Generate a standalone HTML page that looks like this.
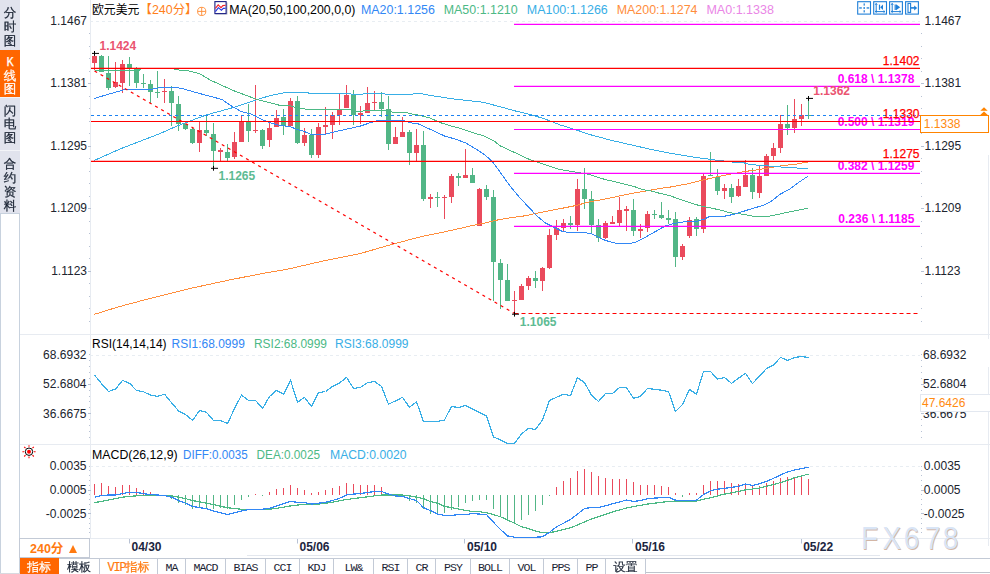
<!DOCTYPE html>
<html lang="zh-CN">
<head>
<meta charset="utf-8">
<title>欧元美元 240分 K线图</title>
<style>
html,body{margin:0;padding:0;background:#fff;}
body{width:990px;height:574px;overflow:hidden;position:relative;font-family:"Liberation Sans","Noto Sans CJK SC",sans-serif;}
#app{position:absolute;left:0;top:0;width:990px;height:574px;background:#fff;overflow:hidden;}
.chart{position:absolute;left:0;top:0;}
.side{position:absolute;left:0;top:0;height:574px;border-left:1px solid #c8d2de;border-right:1px solid #c8d2de;box-sizing:border-box;width:20px;background:#fff;}
.side .box{position:absolute;left:-1px;top:213px;width:20px;height:1px;background:#c8d2de;}
.side .t{position:absolute;left:-1px;width:20px;background:#e1e3ed;color:#1b2434;font:12.5px/13.6px "Liberation Sans","WenQuanYi Zen Hei","Noto Sans CJK SC",sans-serif;text-align:center;box-sizing:border-box;border-top:1px solid #f3f4f8;}
.side .t span{display:block;-webkit-text-stroke:0.25px currentColor;}
.side .t.on{background:#ff6600;color:#fff;border-top:none;}
.bottom{position:absolute;left:0;top:557px;width:990px;height:17px;}
.period{position:absolute;left:19px;top:538px;width:71px;height:20px;border:1px solid #c3cad6;box-sizing:border-box;background:#fff;color:#ff7a10;font:bold 12.5px/18px "Liberation Sans","Noto Sans CJK SC",sans-serif;}
.period b{position:absolute;left:10px;top:1.4px;font-weight:bold;}
.period i{position:absolute;left:48.5px;top:5.8px;width:0;height:0;border-left:4.2px solid transparent;border-right:4.2px solid transparent;border-bottom:8.5px solid #ff7a10;}
.tabs{position:absolute;left:0;top:558px;height:16px;width:990px;}
.tab{position:absolute;top:0;height:16px;box-sizing:border-box;border-right:1px solid #c3cad6;border-top:1px solid #c3cad6;text-align:center;color:#222;font:12px/16px "Liberation Sans","WenQuanYi Zen Hei","Noto Sans CJK SC",sans-serif;background:#fff;white-space:nowrap;overflow:hidden;}
.tab.on{background:#ff6600;color:#fff;border-color:#ff6600;}
.tab.cj,.tab.on,.tab.vip{-webkit-text-stroke:0.2px currentColor;color:#1b2434;}
.tab.on{color:#fff;}
.tab.vip{color:#ff7a10;}
.mono{font-family:"Liberation Mono",monospace;font-size:12px;letter-spacing:-1.2px;}
.tab.mono{line-height:17.4px;font-size:11.6px;letter-spacing:-0.96px;color:#1b2434;}
.rest{position:absolute;left:646px;top:558px;width:344px;height:15px;border-top:1px solid #c3cad6;border-bottom:1.4px solid #bfc4cc;box-sizing:border-box;background:#fff;}
.botline{position:absolute;left:0;top:573px;width:20px;height:1px;background:#d8dae0;}
.scroll{position:absolute;left:247px;top:555px;width:633px;height:1px;background:#e3e7ee;}
</style>
</head>
<body>
<div id="app">
<svg class="chart" width="990" height="574" viewBox="0 0 990 574">
<g stroke="#e7ebf1" stroke-width="1" shape-rendering="crispEdges" fill="none">
<line x1="90.5" y1="0" x2="90.5" y2="538"/>
<line x1="20" y1="334.5" x2="990" y2="334.5"/>
<line x1="20" y1="444.5" x2="990" y2="444.5"/>
<line x1="20" y1="538.5" x2="990" y2="538.5"/>
<line x1="988.5" y1="155" x2="988.5" y2="339"/>
<line x1="988.5" y1="367" x2="988.5" y2="546"/>
</g>
<g stroke="#e8edf2" stroke-width="1" stroke-dasharray="3 3" shape-rendering="crispEdges">
<line x1="90" y1="21.5" x2="920" y2="21.5"/>
<line x1="90" y1="355.5" x2="920" y2="355.5"/>
<line x1="90" y1="466.5" x2="920" y2="466.5"/>
</g>
<g fill="#b8c2d4" shape-rendering="crispEdges">
<rect x="89" y="33" width="1" height="1"/>
<rect x="921" y="33" width="1" height="1"/>
<rect x="89" y="46" width="1" height="1"/>
<rect x="921" y="46" width="1" height="1"/>
<rect x="89" y="58" width="1" height="1"/>
<rect x="921" y="58" width="1" height="1"/>
<rect x="89" y="71" width="1" height="1"/>
<rect x="921" y="71" width="1" height="1"/>
<rect x="88" y="83" width="3" height="1"/>
<rect x="921" y="83" width="3" height="1"/>
<rect x="89" y="96" width="1" height="1"/>
<rect x="921" y="96" width="1" height="1"/>
<rect x="89" y="108" width="1" height="1"/>
<rect x="921" y="108" width="1" height="1"/>
<rect x="89" y="121" width="1" height="1"/>
<rect x="921" y="121" width="1" height="1"/>
<rect x="89" y="133" width="1" height="1"/>
<rect x="921" y="133" width="1" height="1"/>
<rect x="88" y="146" width="3" height="1"/>
<rect x="921" y="146" width="3" height="1"/>
<rect x="89" y="158" width="1" height="1"/>
<rect x="921" y="158" width="1" height="1"/>
<rect x="89" y="171" width="1" height="1"/>
<rect x="921" y="171" width="1" height="1"/>
<rect x="89" y="183" width="1" height="1"/>
<rect x="921" y="183" width="1" height="1"/>
<rect x="89" y="196" width="1" height="1"/>
<rect x="921" y="196" width="1" height="1"/>
<rect x="88" y="208" width="3" height="1"/>
<rect x="921" y="208" width="3" height="1"/>
<rect x="89" y="221" width="1" height="1"/>
<rect x="921" y="221" width="1" height="1"/>
<rect x="89" y="233" width="1" height="1"/>
<rect x="921" y="233" width="1" height="1"/>
<rect x="89" y="246" width="1" height="1"/>
<rect x="921" y="246" width="1" height="1"/>
<rect x="89" y="258" width="1" height="1"/>
<rect x="921" y="258" width="1" height="1"/>
<rect x="88" y="271" width="3" height="1"/>
<rect x="921" y="271" width="3" height="1"/>
<rect x="89" y="283" width="1" height="1"/>
<rect x="921" y="283" width="1" height="1"/>
<rect x="89" y="296" width="1" height="1"/>
<rect x="921" y="296" width="1" height="1"/>
<rect x="89" y="308" width="1" height="1"/>
<rect x="921" y="308" width="1" height="1"/>
<rect x="89" y="321" width="1" height="1"/>
<rect x="921" y="321" width="1" height="1"/>
<rect x="89" y="354" width="1" height="1"/>
<rect x="921" y="354" width="1" height="1"/>
<rect x="89" y="360" width="1" height="1"/>
<rect x="921" y="360" width="1" height="1"/>
<rect x="89" y="366" width="1" height="1"/>
<rect x="921" y="366" width="1" height="1"/>
<rect x="89" y="372" width="1" height="1"/>
<rect x="921" y="372" width="1" height="1"/>
<rect x="89" y="378" width="1" height="1"/>
<rect x="921" y="378" width="1" height="1"/>
<rect x="88" y="384" width="3" height="1"/>
<rect x="921" y="384" width="3" height="1"/>
<rect x="89" y="390" width="1" height="1"/>
<rect x="921" y="390" width="1" height="1"/>
<rect x="89" y="396" width="1" height="1"/>
<rect x="921" y="396" width="1" height="1"/>
<rect x="89" y="401" width="1" height="1"/>
<rect x="921" y="401" width="1" height="1"/>
<rect x="89" y="407" width="1" height="1"/>
<rect x="921" y="407" width="1" height="1"/>
<rect x="88" y="413" width="3" height="1"/>
<rect x="921" y="413" width="3" height="1"/>
<rect x="89" y="419" width="1" height="1"/>
<rect x="921" y="419" width="1" height="1"/>
<rect x="89" y="425" width="1" height="1"/>
<rect x="921" y="425" width="1" height="1"/>
<rect x="89" y="431" width="1" height="1"/>
<rect x="921" y="431" width="1" height="1"/>
<rect x="89" y="437" width="1" height="1"/>
<rect x="921" y="437" width="1" height="1"/>
<rect x="89" y="466" width="1" height="1"/>
<rect x="921" y="466" width="1" height="1"/>
<rect x="89" y="470" width="1" height="1"/>
<rect x="921" y="470" width="1" height="1"/>
<rect x="89" y="475" width="1" height="1"/>
<rect x="921" y="475" width="1" height="1"/>
<rect x="89" y="480" width="1" height="1"/>
<rect x="921" y="480" width="1" height="1"/>
<rect x="89" y="485" width="1" height="1"/>
<rect x="921" y="485" width="1" height="1"/>
<rect x="88" y="490" width="3" height="1"/>
<rect x="921" y="490" width="3" height="1"/>
<rect x="89" y="494" width="1" height="1"/>
<rect x="921" y="494" width="1" height="1"/>
<rect x="89" y="499" width="1" height="1"/>
<rect x="921" y="499" width="1" height="1"/>
<rect x="89" y="504" width="1" height="1"/>
<rect x="921" y="504" width="1" height="1"/>
<rect x="89" y="509" width="1" height="1"/>
<rect x="921" y="509" width="1" height="1"/>
<rect x="88" y="513" width="3" height="1"/>
<rect x="921" y="513" width="3" height="1"/>
<rect x="89" y="518" width="1" height="1"/>
<rect x="921" y="518" width="1" height="1"/>
<rect x="89" y="523" width="1" height="1"/>
<rect x="921" y="523" width="1" height="1"/>
<rect x="89" y="528" width="1" height="1"/>
<rect x="921" y="528" width="1" height="1"/>
<rect x="89" y="532" width="1" height="1"/>
<rect x="921" y="532" width="1" height="1"/>
</g>
<g shape-rendering="crispEdges">
<rect x="94" y="53.2" width="1" height="17.1" fill="#ea4a5c"/>
<rect x="92" y="55.9" width="5" height="7" fill="#ea4a5c"/>
<rect x="101" y="55" width="1" height="16.8" fill="#52b686"/>
<rect x="99" y="55.9" width="5" height="15.9" fill="#52b686"/>
<rect x="108" y="56.2" width="1" height="33.7" fill="#52b686"/>
<rect x="106" y="73.1" width="5" height="14.6" fill="#52b686"/>
<rect x="115" y="62.1" width="1" height="25.8" fill="#ea4a5c"/>
<rect x="113" y="82.1" width="5" height="4.7" fill="#ea4a5c"/>
<rect x="122" y="60.1" width="1" height="32.9" fill="#ea4a5c"/>
<rect x="120" y="64" width="5" height="18.7" fill="#ea4a5c"/>
<rect x="129" y="57.1" width="1" height="28.6" fill="#52b686"/>
<rect x="127" y="64" width="5" height="5.2" fill="#52b686"/>
<rect x="136" y="66.8" width="1" height="20.9" fill="#52b686"/>
<rect x="134" y="69.2" width="5" height="13.5" fill="#52b686"/>
<rect x="143" y="74" width="1" height="13.8" fill="#52b686"/>
<rect x="141" y="83.1" width="5" height="1" fill="#52b686"/>
<rect x="150" y="80" width="1" height="23.4" fill="#52b686"/>
<rect x="148" y="84.1" width="5" height="7.6" fill="#52b686"/>
<rect x="157" y="71.1" width="1" height="26.8" fill="#52b686"/>
<rect x="155" y="92.1" width="5" height="1" fill="#52b686"/>
<rect x="164" y="79.1" width="1" height="23.8" fill="#ea4a5c"/>
<rect x="162" y="90.7" width="5" height="1" fill="#ea4a5c"/>
<rect x="171" y="86.2" width="1" height="39.5" fill="#52b686"/>
<rect x="169" y="91.2" width="5" height="12.2" fill="#52b686"/>
<rect x="178" y="96.2" width="1" height="34.6" fill="#52b686"/>
<rect x="176" y="104.3" width="5" height="19.5" fill="#52b686"/>
<rect x="185" y="124" width="1" height="5.8" fill="#52b686"/>
<rect x="183" y="124" width="5" height="4.7" fill="#52b686"/>
<rect x="192" y="128" width="1" height="15.7" fill="#52b686"/>
<rect x="190" y="128.8" width="5" height="14.1" fill="#52b686"/>
<rect x="199" y="121.7" width="1" height="30.1" fill="#ea4a5c"/>
<rect x="197" y="129.9" width="5" height="12.8" fill="#ea4a5c"/>
<rect x="206" y="115" width="1" height="20.7" fill="#52b686"/>
<rect x="204" y="129.9" width="5" height="3" fill="#52b686"/>
<rect x="213" y="123.2" width="1" height="44.6" fill="#52b686"/>
<rect x="211" y="134" width="5" height="16.7" fill="#52b686"/>
<rect x="220" y="147.9" width="1" height="13.2" fill="#ea4a5c"/>
<rect x="218" y="150" width="5" height="1.8" fill="#ea4a5c"/>
<rect x="227" y="144" width="1" height="17.1" fill="#52b686"/>
<rect x="225" y="152.2" width="5" height="5.5" fill="#52b686"/>
<rect x="234" y="132.1" width="1" height="26.8" fill="#ea4a5c"/>
<rect x="232" y="142.1" width="5" height="14.8" fill="#ea4a5c"/>
<rect x="241" y="115.6" width="1" height="26.2" fill="#ea4a5c"/>
<rect x="239" y="121.7" width="5" height="20.1" fill="#ea4a5c"/>
<rect x="248" y="103.9" width="1" height="37.9" fill="#52b686"/>
<rect x="246" y="121.7" width="5" height="9" fill="#52b686"/>
<rect x="255" y="85" width="1" height="47.9" fill="#ea4a5c"/>
<rect x="253" y="129.8" width="5" height="1" fill="#ea4a5c"/>
<rect x="262" y="129" width="1" height="19.8" fill="#52b686"/>
<rect x="260" y="129.9" width="5" height="15.8" fill="#52b686"/>
<rect x="269" y="122.3" width="1" height="24.5" fill="#ea4a5c"/>
<rect x="267" y="128.1" width="5" height="11.5" fill="#ea4a5c"/>
<rect x="276" y="110" width="1" height="16.7" fill="#ea4a5c"/>
<rect x="274" y="118.1" width="5" height="8.6" fill="#ea4a5c"/>
<rect x="283" y="109" width="1" height="25.8" fill="#52b686"/>
<rect x="281" y="117.1" width="5" height="8.8" fill="#52b686"/>
<rect x="290" y="97.8" width="1" height="27.7" fill="#ea4a5c"/>
<rect x="288" y="101.2" width="5" height="24.3" fill="#ea4a5c"/>
<rect x="297" y="96.2" width="1" height="47.6" fill="#52b686"/>
<rect x="295" y="101.2" width="5" height="41.6" fill="#52b686"/>
<rect x="304" y="128" width="1" height="17.9" fill="#ea4a5c"/>
<rect x="302" y="135.1" width="5" height="7.6" fill="#ea4a5c"/>
<rect x="311" y="129.2" width="1" height="28.5" fill="#52b686"/>
<rect x="309" y="134.7" width="5" height="20.1" fill="#52b686"/>
<rect x="318" y="123.2" width="1" height="34.5" fill="#ea4a5c"/>
<rect x="316" y="127.1" width="5" height="27.7" fill="#ea4a5c"/>
<rect x="325" y="107" width="1" height="27" fill="#ea4a5c"/>
<rect x="323" y="125" width="5" height="1.9" fill="#ea4a5c"/>
<rect x="332" y="112" width="1" height="26.8" fill="#ea4a5c"/>
<rect x="330" y="115" width="5" height="9.7" fill="#ea4a5c"/>
<rect x="339" y="93.9" width="1" height="30.9" fill="#ea4a5c"/>
<rect x="337" y="109.9" width="5" height="5" fill="#ea4a5c"/>
<rect x="346" y="85" width="1" height="22.6" fill="#ea4a5c"/>
<rect x="344" y="95.1" width="5" height="12.5" fill="#ea4a5c"/>
<rect x="353" y="90" width="1" height="34.8" fill="#52b686"/>
<rect x="351" y="94.5" width="5" height="20.3" fill="#52b686"/>
<rect x="360" y="106.2" width="1" height="17.6" fill="#ea4a5c"/>
<rect x="358" y="113.1" width="5" height="1.8" fill="#ea4a5c"/>
<rect x="367" y="86.9" width="1" height="25.8" fill="#ea4a5c"/>
<rect x="365" y="103.2" width="5" height="9.5" fill="#ea4a5c"/>
<rect x="374" y="91" width="1" height="18.9" fill="#ea4a5c"/>
<rect x="372" y="101.9" width="5" height="1" fill="#ea4a5c"/>
<rect x="381" y="92" width="1" height="24.8" fill="#52b686"/>
<rect x="379" y="102" width="5" height="6.7" fill="#52b686"/>
<rect x="388" y="96" width="1" height="53.6" fill="#52b686"/>
<rect x="386" y="109.1" width="5" height="34.5" fill="#52b686"/>
<rect x="395" y="127.1" width="1" height="16.5" fill="#ea4a5c"/>
<rect x="393" y="137.2" width="5" height="6.4" fill="#ea4a5c"/>
<rect x="402" y="117.1" width="1" height="19.5" fill="#ea4a5c"/>
<rect x="400" y="132" width="5" height="4.6" fill="#ea4a5c"/>
<rect x="409" y="129.8" width="1" height="35" fill="#52b686"/>
<rect x="407" y="132" width="5" height="20.6" fill="#52b686"/>
<rect x="416" y="128.9" width="1" height="32.3" fill="#ea4a5c"/>
<rect x="414" y="145.1" width="5" height="7.5" fill="#ea4a5c"/>
<rect x="423" y="131" width="1" height="69.7" fill="#52b686"/>
<rect x="421" y="145.1" width="5" height="53.6" fill="#52b686"/>
<rect x="430" y="194.2" width="1" height="13.5" fill="#ea4a5c"/>
<rect x="428" y="197.1" width="5" height="1.7" fill="#ea4a5c"/>
<rect x="437" y="192.1" width="1" height="14.7" fill="#52b686"/>
<rect x="435" y="197.1" width="5" height="1" fill="#52b686"/>
<rect x="444" y="195.1" width="1" height="23.6" fill="#ea4a5c"/>
<rect x="442" y="196.9" width="5" height="1" fill="#ea4a5c"/>
<rect x="451" y="174" width="1" height="28.7" fill="#ea4a5c"/>
<rect x="449" y="176.1" width="5" height="20.7" fill="#ea4a5c"/>
<rect x="458" y="173.1" width="1" height="12.6" fill="#52b686"/>
<rect x="456" y="176" width="5" height="1.5" fill="#52b686"/>
<rect x="465" y="149" width="1" height="28.6" fill="#ea4a5c"/>
<rect x="463" y="175.1" width="5" height="2.5" fill="#ea4a5c"/>
<rect x="472" y="168.2" width="1" height="14.4" fill="#52b686"/>
<rect x="470" y="175.1" width="5" height="7.5" fill="#52b686"/>
<rect x="479" y="188.1" width="1" height="37.6" fill="#ea4a5c"/>
<rect x="477" y="189" width="5" height="36.7" fill="#ea4a5c"/>
<rect x="486" y="185.1" width="1" height="14.7" fill="#52b686"/>
<rect x="484" y="189" width="5" height="7.8" fill="#52b686"/>
<rect x="493" y="190.1" width="1" height="110.4" fill="#52b686"/>
<rect x="491" y="197.1" width="5" height="64.7" fill="#52b686"/>
<rect x="500" y="259" width="1" height="49.8" fill="#52b686"/>
<rect x="498" y="263.1" width="5" height="16.5" fill="#52b686"/>
<rect x="507" y="263.9" width="1" height="36.9" fill="#52b686"/>
<rect x="505" y="280.1" width="5" height="20.7" fill="#52b686"/>
<rect x="514" y="291.2" width="1" height="22.3" fill="#ea4a5c"/>
<rect x="512" y="300" width="5" height="1" fill="#ea4a5c"/>
<rect x="521" y="284.1" width="1" height="15.6" fill="#ea4a5c"/>
<rect x="519" y="286" width="5" height="13.7" fill="#ea4a5c"/>
<rect x="528" y="276.2" width="1" height="13.4" fill="#ea4a5c"/>
<rect x="526" y="278.1" width="5" height="7.5" fill="#ea4a5c"/>
<rect x="535" y="271.1" width="1" height="16.8" fill="#52b686"/>
<rect x="533" y="278.2" width="5" height="2.5" fill="#52b686"/>
<rect x="542" y="267" width="1" height="23.8" fill="#ea4a5c"/>
<rect x="540" y="268" width="5" height="12.7" fill="#ea4a5c"/>
<rect x="549" y="228.9" width="1" height="39.8" fill="#ea4a5c"/>
<rect x="547" y="235.1" width="5" height="32.5" fill="#ea4a5c"/>
<rect x="556" y="220" width="1" height="19.7" fill="#ea4a5c"/>
<rect x="554" y="228.2" width="5" height="6.6" fill="#ea4a5c"/>
<rect x="563" y="218.9" width="1" height="11.7" fill="#ea4a5c"/>
<rect x="561" y="223" width="5" height="4.6" fill="#ea4a5c"/>
<rect x="570" y="216.1" width="1" height="12.8" fill="#52b686"/>
<rect x="568" y="223" width="5" height="1.8" fill="#52b686"/>
<rect x="577" y="179.2" width="1" height="51.4" fill="#ea4a5c"/>
<rect x="575" y="189.2" width="5" height="35.6" fill="#ea4a5c"/>
<rect x="584" y="168" width="1" height="40.8" fill="#52b686"/>
<rect x="582" y="189.2" width="5" height="9.6" fill="#52b686"/>
<rect x="591" y="191.2" width="1" height="42.3" fill="#52b686"/>
<rect x="589" y="199.2" width="5" height="25.7" fill="#52b686"/>
<rect x="598" y="219" width="1" height="22.8" fill="#52b686"/>
<rect x="596" y="225.3" width="5" height="12.3" fill="#52b686"/>
<rect x="605" y="221.2" width="1" height="17.5" fill="#ea4a5c"/>
<rect x="603" y="223.1" width="5" height="14.5" fill="#ea4a5c"/>
<rect x="612" y="216" width="1" height="7.8" fill="#ea4a5c"/>
<rect x="610" y="222.1" width="5" height="1.7" fill="#ea4a5c"/>
<rect x="619" y="197" width="1" height="28.7" fill="#ea4a5c"/>
<rect x="617" y="210" width="5" height="12.6" fill="#ea4a5c"/>
<rect x="626" y="206.1" width="1" height="24.8" fill="#ea4a5c"/>
<rect x="624" y="208.9" width="5" height="1.7" fill="#ea4a5c"/>
<rect x="633" y="199.1" width="1" height="36.8" fill="#52b686"/>
<rect x="631" y="210" width="5" height="20.7" fill="#52b686"/>
<rect x="640" y="224" width="1" height="13.9" fill="#ea4a5c"/>
<rect x="638" y="229.3" width="5" height="1.6" fill="#ea4a5c"/>
<rect x="647" y="211.2" width="1" height="20.6" fill="#ea4a5c"/>
<rect x="645" y="214.2" width="5" height="14.2" fill="#ea4a5c"/>
<rect x="654" y="210" width="1" height="9" fill="#52b686"/>
<rect x="652" y="214" width="5" height="1" fill="#52b686"/>
<rect x="661" y="201.9" width="1" height="17.1" fill="#52b686"/>
<rect x="659" y="215.1" width="5" height="2.8" fill="#52b686"/>
<rect x="668" y="210" width="1" height="14.2" fill="#52b686"/>
<rect x="666" y="218.1" width="5" height="1.6" fill="#52b686"/>
<rect x="675" y="212" width="1" height="54.6" fill="#52b686"/>
<rect x="673" y="218.9" width="5" height="37.8" fill="#52b686"/>
<rect x="682" y="244" width="1" height="15.8" fill="#ea4a5c"/>
<rect x="680" y="246" width="5" height="10.7" fill="#ea4a5c"/>
<rect x="689" y="217" width="1" height="20.8" fill="#ea4a5c"/>
<rect x="687" y="220.2" width="5" height="15.5" fill="#ea4a5c"/>
<rect x="696" y="217" width="1" height="18.7" fill="#52b686"/>
<rect x="694" y="218.9" width="5" height="9.7" fill="#52b686"/>
<rect x="703" y="174.2" width="1" height="58.4" fill="#ea4a5c"/>
<rect x="701" y="176.2" width="5" height="52.4" fill="#ea4a5c"/>
<rect x="710" y="152" width="1" height="23.8" fill="#52b686"/>
<rect x="708" y="174.8" width="5" height="1" fill="#52b686"/>
<rect x="717" y="169" width="1" height="25.6" fill="#52b686"/>
<rect x="715" y="176.8" width="5" height="13.9" fill="#52b686"/>
<rect x="724" y="184" width="1" height="14.7" fill="#ea4a5c"/>
<rect x="722" y="187.9" width="5" height="3" fill="#ea4a5c"/>
<rect x="731" y="184" width="1" height="18.7" fill="#52b686"/>
<rect x="729" y="187.9" width="5" height="8.9" fill="#52b686"/>
<rect x="738" y="179" width="1" height="17.8" fill="#ea4a5c"/>
<rect x="736" y="186" width="5" height="9.7" fill="#ea4a5c"/>
<rect x="745" y="160" width="1" height="26.8" fill="#ea4a5c"/>
<rect x="743" y="174.9" width="5" height="11.9" fill="#ea4a5c"/>
<rect x="752" y="168.2" width="1" height="30.5" fill="#52b686"/>
<rect x="750" y="174.9" width="5" height="16.9" fill="#52b686"/>
<rect x="759" y="165.6" width="1" height="32" fill="#ea4a5c"/>
<rect x="757" y="176" width="5" height="16.9" fill="#ea4a5c"/>
<rect x="766" y="154.1" width="1" height="21.6" fill="#ea4a5c"/>
<rect x="764" y="156.1" width="5" height="19.6" fill="#ea4a5c"/>
<rect x="773" y="142.8" width="1" height="16.9" fill="#ea4a5c"/>
<rect x="771" y="148.1" width="5" height="7.7" fill="#ea4a5c"/>
<rect x="780" y="115.3" width="1" height="37.5" fill="#ea4a5c"/>
<rect x="778" y="123.9" width="5" height="23.8" fill="#ea4a5c"/>
<rect x="787" y="105.1" width="1" height="29.7" fill="#52b686"/>
<rect x="785" y="123.9" width="5" height="4" fill="#52b686"/>
<rect x="794" y="98.9" width="1" height="33.9" fill="#ea4a5c"/>
<rect x="792" y="119" width="5" height="8.6" fill="#ea4a5c"/>
<rect x="801" y="104.2" width="1" height="21.7" fill="#ea4a5c"/>
<rect x="799" y="115.3" width="5" height="3.4" fill="#ea4a5c"/>
<rect x="808" y="98.6" width="1" height="20.1" fill="#52b686"/>
<rect x="806" y="114.8" width="5" height="1" fill="#52b686"/>
</g>
<polyline fill="none" stroke="#ff8d3c" stroke-width="1" shape-rendering="crispEdges" points="94.1,314.4 118.3,306.9 148.6,298.8 189,288.7 229.4,280 259.7,274 288,269.1 320,261.7 360,253.6 393,244.1 420,236.9 440,232.8 460,228.4 470,226.1 485,223 500,219.4 515,217.2 525,215.8 545,211.5 560,208.7 575,205.7 590,201.8 605,199 620,195.9 635,192.9 650,190.3 660,188.4 670,187.1 690,183.4 700,180.7 715,177.3 730,174.2 745,171.5 760,169.4 775,166.9 783,165.6 795,164.3 808,162"/>
<polyline fill="none" stroke="#38aee6" stroke-width="1" shape-rendering="crispEdges" points="94.1,160.5 120,149 159,134 175,126.9 190,121 207,114.7 220,111.2 233,107.6 245,103.6 256,100 270,95.6 280,93.6 288,92 307,92 309,93.4 350,93.4 352,94.5 362,94.5 365,93.4 384,93.5 386,94.6 412,94.6 414,93.3 420,93.3 428,95.1 440,96.8 450,98.5 465,100.3 480,101.9 485,102.8 500,106.7 515,110.9 530,114.4 545,119 560,124.9 575,129.5 590,134.6 610,140 630,144.6 650,149.2 670,153.2 690,156.5 700,158 710,159.3 720,160.6 735,162.3 742,162.3 750,164.5 760,165.4 768,165.4 770,166.7 777,166.7 785,167.3 796,167.3 798,168.4 808,168.4"/>
<polyline fill="none" stroke="#4cb985" stroke-width="1" shape-rendering="crispEdges" points="95,70.5 139,70.5 141,68.5 173,68.5 175,69.5 182,70.5 190,71.1 200,73.9 210,80 220,84.5 235,91.2 250,96.8 259,100 270,102.8 280,105.4 290,105.4 293,106.8 300,108.1 308,109.5 350,109.5 355,111.2 362,111.2 366,110.3 385,110.4 392,112.1 405,112.1 412,114.1 420,115.4 430,118 440,122.5 450,125.8 460,128.3 470,131.8 485,136.3 495,141.7 500,145.8 515,152.7 530,159.7 545,164.8 560,169.5 575,172 590,174.6 605,179.5 620,182.9 635,186.8 642,189.5 650,190.7 660,193.4 670,195.7 680,199.5 690,202.6 700,205.8 710,207.8 720,210 730,212.8 745,214.5 752,216.1 770,216.1 782,213.5 795,210.8 808,208.2"/>
<polyline fill="none" stroke="#3287f5" stroke-width="1" shape-rendering="crispEdges" points="94.1,98.5 110,93.8 126.5,89 152.7,89 161.6,87.4 173.8,87.4 182,88.4 195,92.3 210,96.2 222,99.5 230,105.1 241,111.5 250,113.7 262,119.5 270,122.7 280,125.6 290,126.5 297,129.5 304,131.3 311,134.4 325,134.4 332,132.4 345,129.5 360,126.2 370,122.8 378,120.5 403,120.5 410,122.7 418,123.8 425,126.9 435,131.5 445,136.2 455,139 465,142.6 475,148.4 485,155.1 492,161.2 500,172 510,186 520,198 530,208.5 536,215 545,222.8 553,226.7 562,231.2 568,232.3 585,232.6 592,234 598,237.1 605,240.2 612,242.4 617,243.5 630,243.5 635,242.4 645,237.4 655,231.8 665,226.1 672,224 680,222.5 688,221.2 697,221.2 705,218.9 710,216.1 725,216.1 735,214.1 750,209.2 760,206.3 765,204.6 772,200.7 780,194.3 790,189 800,181.5 808,176.2"/>
<g stroke="#ff00ff" stroke-width="1.2">
<line x1="514" y1="24.3" x2="920" y2="24.3"/>
<line x1="514" y1="86.4" x2="920" y2="86.4"/>
<line x1="514" y1="129.5" x2="920" y2="129.5"/>
<line x1="514" y1="173.4" x2="920" y2="173.4"/>
<line x1="514" y1="226.4" x2="920" y2="226.4"/>
</g>
<g font-family="'Liberation Sans', Arial, sans-serif" font-size="12" font-weight="bold">
<text x="914.4" y="82.7" text-anchor="end" fill="#ff00ff" xml:space="preserve">0.618 \ 1.1378</text>
<text x="914.4" y="125.8" text-anchor="end" fill="#ff00ff" xml:space="preserve">0.500 \ 1.1319</text>
<text x="914.4" y="169.7" text-anchor="end" fill="#ff00ff" xml:space="preserve">0.382 \ 1.1259</text>
<text x="914.4" y="222.7" text-anchor="end" fill="#ff00ff" xml:space="preserve">0.236 \ 1.1185</text>
</g>
<g stroke="#ff0000" stroke-width="1.2">
<line x1="91" y1="68.3" x2="920" y2="68.3"/>
<line x1="91" y1="121.5" x2="920" y2="121.5"/>
<line x1="91" y1="161.4" x2="920" y2="161.4"/>
</g>
<line x1="91" y1="115.5" x2="920" y2="115.5" stroke="#1c82f2" stroke-width="1.1" stroke-dasharray="3 3"/>
<line x1="94.5" y1="71" x2="514.5" y2="313.5" stroke="#ff0000" stroke-width="1.3" stroke-dasharray="3 4"/>
<line x1="514.5" y1="313.5" x2="920" y2="313.5" stroke="#ff0000" stroke-width="1.2" stroke-dasharray="4 3"/>
<path d="M92.0 53.4H99.0M94.5 51.0V55.8" stroke="#000" stroke-width="1" fill="none"/>
<path d="M211.0 168.3H218.0M213.5 165.9V170.70000000000002" stroke="#000" stroke-width="1" fill="none"/>
<path d="M512.0 314.2H519.0M514.5 311.8V316.59999999999997" stroke="#000" stroke-width="1" fill="none"/>
<path d="M806.0 98.4H813.0M808.5 96.0V100.80000000000001" stroke="#000" stroke-width="1" fill="none"/>
<g font-family="'Liberation Sans', Arial, sans-serif" font-size="12">
<text x="99.5" y="50" font-weight="bold" fill="#ea5470">1.1424</text>
<text x="218.5" y="180" font-weight="bold" fill="#5dbb93">1.1265</text>
<text x="519.8" y="326" font-weight="bold" fill="#5dbb93">1.1065</text>
<text x="813.3" y="95" font-weight="bold" fill="#ea5470">1.1362</text>
<text x="919.5" y="64.6" text-anchor="end" fill="#ff0000" stroke="#ff0000" stroke-width="0.25">1.1402</text>
<text x="919.5" y="117.9" text-anchor="end" fill="#ff0000" stroke="#ff0000" stroke-width="0.25">1.1330</text>
<text x="919.5" y="157.9" text-anchor="end" fill="#ff0000" stroke="#ff0000" stroke-width="0.25">1.1275</text>
<text x="87" y="25.3" text-anchor="end" fill="#20242e">1.1467</text>
<text x="924.5" y="25.3" fill="#20242e">1.1467</text>
<text x="87" y="87.3" text-anchor="end" fill="#20242e">1.1381</text>
<text x="924.5" y="87.3" fill="#20242e">1.1381</text>
<text x="87" y="149.8" text-anchor="end" fill="#20242e">1.1295</text>
<text x="924.5" y="149.8" fill="#20242e">1.1295</text>
<text x="87" y="212.3" text-anchor="end" fill="#20242e">1.1209</text>
<text x="924.5" y="212.3" fill="#20242e">1.1209</text>
<text x="87" y="274.8" text-anchor="end" fill="#20242e">1.1123</text>
<text x="924.5" y="274.8" fill="#20242e">1.1123</text>
<text x="86.5" y="359" text-anchor="end" fill="#20242e">68.6932</text>
<text x="923" y="359" fill="#20242e">68.6932</text>
<text x="86.5" y="388.4" text-anchor="end" fill="#20242e">52.6804</text>
<text x="923" y="388.4" fill="#20242e">52.6804</text>
<text x="86.5" y="418" text-anchor="end" fill="#20242e">36.6675</text>
<text x="923" y="418" fill="#20242e">36.6675</text>
<text x="86.5" y="470.4" text-anchor="end" fill="#20242e">0.0035</text>
<text x="923.8" y="470.4" fill="#20242e">0.0035</text>
<text x="86.5" y="494.1" text-anchor="end" fill="#20242e">0.0005</text>
<text x="923.8" y="494.1" fill="#20242e">0.0005</text>
<text x="86.5" y="517.9" text-anchor="end" fill="#20242e">-0.0025</text>
<text x="923.8" y="517.9" fill="#20242e">-0.0025</text>
<rect x="129" y="539" width="1" height="4.5" fill="#b8c2d4"/>
<text x="131.5" y="551.3" font-weight="bold" fill="#1b2540">04/30</text>
<rect x="297" y="539" width="1" height="4.5" fill="#b8c2d4"/>
<text x="299.5" y="551.3" font-weight="bold" fill="#1b2540">05/06</text>
<rect x="464" y="539" width="1" height="4.5" fill="#b8c2d4"/>
<text x="467.0" y="551.3" font-weight="bold" fill="#1b2540">05/10</text>
<rect x="632" y="539" width="1" height="4.5" fill="#b8c2d4"/>
<text x="635.0" y="551.3" font-weight="bold" fill="#1b2540">05/16</text>
<rect x="801" y="539" width="1" height="4.5" fill="#b8c2d4"/>
<text x="803.2" y="551.3" font-weight="bold" fill="#1b2540">05/22</text>
</g>
<rect x="920.5" y="115.5" width="68" height="17" fill="#fff" stroke="#ff8400" stroke-width="1"/>
<text x="923.8" y="127.9" font-family="'Liberation Sans', Arial, sans-serif" font-size="12" fill="#ff8a10">1.1338</text>
<path d="M984 107.2l3.7 3.6h-7.4zM984 111.4l3.8 3.7h-7.6z" fill="#ff8400"/>
<rect x="920.5" y="394.5" width="70" height="17" fill="#fff" stroke="#e3e8f0" stroke-width="1"/>
<text x="922" y="407.3" font-family="'Liberation Sans', Arial, sans-serif" font-size="12" fill="#ff8a10">47.6426</text>
<polyline fill="none" stroke="#38aee6" stroke-width="1.2" shape-rendering="crispEdges" points="94.5,375.1 101.5,383.6 108.5,391.5 115.5,389.1 122.5,380.4 129.5,383.3 136.5,390.4 143.5,391.8 150.5,395.1 157.5,396.4 164.5,394.2 171.5,402.7 178.5,410.9 185.5,414.5 192.5,420.4 199.5,410.5 206.5,412.4 213.5,420.4 220.5,420.4 227.5,423.6 234.5,408.5 241.5,395.1 248.5,400.4 255.5,400.4 262.5,408.5 269.5,396.5 276.5,390.3 283.5,394.2 290.5,380.3 297.5,402.4 304.5,397.3 311.5,406.4 318.5,392.7 325.5,391.5 332.5,386.4 339.5,383.1 346.5,377.3 353.5,388.5 360.5,387.3 367.5,382.7 374.5,381.5 381.5,386.4 388.5,404.2 395.5,400.9 402.5,397.3 409.5,407.3 416.5,401.8 423.5,421.5 430.5,421.5 437.5,421.5 444.5,420 451.5,406.4 458.5,407.6 465.5,405.5 472.5,409.1 479.5,412.6 486.5,415.8 493.5,436.9 500.5,440 507.5,443.5 514.5,443.5 521.5,434 528.5,428.2 535.5,429.5 542.5,420 549.5,400.5 556.5,397.3 563.5,394.2 570.5,395.5 577.5,377.6 584.5,382.7 591.5,395.1 598.5,401.5 605.5,393.6 612.5,393.6 619.5,387.5 626.5,387.5 633.5,398.4 640.5,396.4 647.5,388.4 654.5,389.3 661.5,390.2 668.5,391.5 675.5,411.5 682.5,404.5 689.5,389.5 696.5,394.2 703.5,371.5 710.5,371.5 717.5,379.1 724.5,377.5 731.5,383.3 738.5,378.2 745.5,373.3 752.5,383.6 759.5,376 766.5,368.5 773.5,365.1 780.5,357.3 787.5,360.5 794.5,357.6 801.5,356.4 808.5,357.6"/>
<g shape-rendering="crispEdges">
<rect x="94" y="484.1" width="1" height="10.4" fill="#ea4a5c"/>
<rect x="101" y="483.2" width="1" height="11.3" fill="#ea4a5c"/>
<rect x="108" y="486.3" width="1" height="8.2" fill="#ea4a5c"/>
<rect x="115" y="487.2" width="1" height="7.3" fill="#ea4a5c"/>
<rect x="122" y="485.4" width="1" height="9.1" fill="#ea4a5c"/>
<rect x="129" y="485.4" width="1" height="9.1" fill="#ea4a5c"/>
<rect x="136" y="488.3" width="1" height="6.2" fill="#ea4a5c"/>
<rect x="143" y="490.1" width="1" height="4.4" fill="#ea4a5c"/>
<rect x="150" y="492.3" width="1" height="2.2" fill="#ea4a5c"/>
<rect x="157" y="493.7" width="1" height="1" fill="#ea4a5c"/>
<rect x="164" y="494.5" width="1" height="1" fill="#52b686"/>
<rect x="171" y="494.5" width="1" height="4.1" fill="#52b686"/>
<rect x="178" y="494.5" width="1" height="8.1" fill="#52b686"/>
<rect x="185" y="494.5" width="1" height="10" fill="#52b686"/>
<rect x="192" y="494.5" width="1" height="14.5" fill="#52b686"/>
<rect x="199" y="494.5" width="1" height="13.2" fill="#52b686"/>
<rect x="206" y="494.5" width="1" height="13.2" fill="#52b686"/>
<rect x="213" y="494.5" width="1" height="14.5" fill="#52b686"/>
<rect x="220" y="494.5" width="1" height="13.2" fill="#52b686"/>
<rect x="227" y="494.5" width="1" height="14.5" fill="#52b686"/>
<rect x="234" y="494.5" width="1" height="10.5" fill="#52b686"/>
<rect x="241" y="494.5" width="1" height="5" fill="#52b686"/>
<rect x="248" y="494.5" width="1" height="2" fill="#52b686"/>
<rect x="255" y="494" width="1" height="1" fill="#ea4a5c"/>
<rect x="262" y="494.5" width="1" height="1" fill="#52b686"/>
<rect x="269" y="492.3" width="1" height="2.2" fill="#ea4a5c"/>
<rect x="276" y="489" width="1" height="5.5" fill="#ea4a5c"/>
<rect x="283" y="488.1" width="1" height="6.4" fill="#ea4a5c"/>
<rect x="290" y="485" width="1" height="9.5" fill="#ea4a5c"/>
<rect x="297" y="488.1" width="1" height="6.4" fill="#ea4a5c"/>
<rect x="304" y="490.1" width="1" height="4.4" fill="#ea4a5c"/>
<rect x="311" y="493.2" width="1" height="1.3" fill="#ea4a5c"/>
<rect x="318" y="492.3" width="1" height="2.2" fill="#ea4a5c"/>
<rect x="325" y="490.1" width="1" height="4.4" fill="#ea4a5c"/>
<rect x="332" y="488.1" width="1" height="6.4" fill="#ea4a5c"/>
<rect x="339" y="485.9" width="1" height="8.6" fill="#ea4a5c"/>
<rect x="346" y="483.2" width="1" height="11.3" fill="#ea4a5c"/>
<rect x="353" y="483.7" width="1" height="10.8" fill="#ea4a5c"/>
<rect x="360" y="484.6" width="1" height="9.9" fill="#ea4a5c"/>
<rect x="367" y="485" width="1" height="9.5" fill="#ea4a5c"/>
<rect x="374" y="485" width="1" height="9.5" fill="#ea4a5c"/>
<rect x="381" y="487.2" width="1" height="7.3" fill="#ea4a5c"/>
<rect x="388" y="492.8" width="1" height="1.7" fill="#ea4a5c"/>
<rect x="395" y="494.5" width="1" height="2" fill="#52b686"/>
<rect x="402" y="494.5" width="1" height="2.7" fill="#52b686"/>
<rect x="409" y="494.5" width="1" height="6.9" fill="#52b686"/>
<rect x="416" y="494.5" width="1" height="8.1" fill="#52b686"/>
<rect x="423" y="494.5" width="1" height="14.5" fill="#52b686"/>
<rect x="430" y="494.5" width="1" height="19" fill="#52b686"/>
<rect x="437" y="494.5" width="1" height="19.6" fill="#52b686"/>
<rect x="444" y="494.5" width="1" height="18.7" fill="#52b686"/>
<rect x="451" y="494.5" width="1" height="15" fill="#52b686"/>
<rect x="458" y="494.5" width="1" height="12.3" fill="#52b686"/>
<rect x="465" y="494.5" width="1" height="8.1" fill="#52b686"/>
<rect x="472" y="494.5" width="1" height="6" fill="#52b686"/>
<rect x="479" y="494.5" width="1" height="5" fill="#52b686"/>
<rect x="486" y="494.5" width="1" height="5" fill="#52b686"/>
<rect x="493" y="494.5" width="1" height="14.1" fill="#52b686"/>
<rect x="500" y="494.5" width="1" height="21.4" fill="#52b686"/>
<rect x="507" y="494.5" width="1" height="26.9" fill="#52b686"/>
<rect x="514" y="494.5" width="1" height="28.7" fill="#52b686"/>
<rect x="521" y="494.5" width="1" height="25" fill="#52b686"/>
<rect x="528" y="494.5" width="1" height="20.1" fill="#52b686"/>
<rect x="535" y="494.5" width="1" height="16" fill="#52b686"/>
<rect x="542" y="494.5" width="1" height="10" fill="#52b686"/>
<rect x="549" y="494.5" width="1" height="1.4" fill="#52b686"/>
<rect x="556" y="487.4" width="1" height="7.1" fill="#ea4a5c"/>
<rect x="563" y="481.4" width="1" height="13.1" fill="#ea4a5c"/>
<rect x="570" y="478.3" width="1" height="16.2" fill="#ea4a5c"/>
<rect x="577" y="471.4" width="1" height="23.1" fill="#ea4a5c"/>
<rect x="584" y="469.2" width="1" height="25.3" fill="#ea4a5c"/>
<rect x="591" y="472.3" width="1" height="22.2" fill="#ea4a5c"/>
<rect x="598" y="476.3" width="1" height="18.2" fill="#ea4a5c"/>
<rect x="605" y="478.3" width="1" height="16.2" fill="#ea4a5c"/>
<rect x="612" y="479.2" width="1" height="15.3" fill="#ea4a5c"/>
<rect x="619" y="479.2" width="1" height="15.3" fill="#ea4a5c"/>
<rect x="626" y="479.2" width="1" height="15.3" fill="#ea4a5c"/>
<rect x="633" y="482.3" width="1" height="12.2" fill="#ea4a5c"/>
<rect x="640" y="485.4" width="1" height="9.1" fill="#ea4a5c"/>
<rect x="647" y="485.4" width="1" height="9.1" fill="#ea4a5c"/>
<rect x="654" y="485.4" width="1" height="9.1" fill="#ea4a5c"/>
<rect x="661" y="486.3" width="1" height="8.2" fill="#ea4a5c"/>
<rect x="668" y="487.4" width="1" height="7.1" fill="#ea4a5c"/>
<rect x="675" y="493.2" width="1" height="1.3" fill="#ea4a5c"/>
<rect x="682" y="494.5" width="1" height="2" fill="#52b686"/>
<rect x="689" y="493.2" width="1" height="1.3" fill="#ea4a5c"/>
<rect x="696" y="493.2" width="1" height="1.3" fill="#ea4a5c"/>
<rect x="703" y="485.4" width="1" height="9.1" fill="#ea4a5c"/>
<rect x="710" y="481.4" width="1" height="13.1" fill="#ea4a5c"/>
<rect x="717" y="481.4" width="1" height="13.1" fill="#ea4a5c"/>
<rect x="724" y="481.4" width="1" height="13.1" fill="#ea4a5c"/>
<rect x="731" y="483.2" width="1" height="11.3" fill="#ea4a5c"/>
<rect x="738" y="484.1" width="1" height="10.4" fill="#ea4a5c"/>
<rect x="745" y="483.2" width="1" height="11.3" fill="#ea4a5c"/>
<rect x="752" y="485.9" width="1" height="8.6" fill="#ea4a5c"/>
<rect x="759" y="486.3" width="1" height="8.2" fill="#ea4a5c"/>
<rect x="766" y="483.2" width="1" height="11.3" fill="#ea4a5c"/>
<rect x="773" y="481.4" width="1" height="13.1" fill="#ea4a5c"/>
<rect x="780" y="478.3" width="1" height="16.2" fill="#ea4a5c"/>
<rect x="787" y="477.2" width="1" height="17.3" fill="#ea4a5c"/>
<rect x="794" y="477.2" width="1" height="17.3" fill="#ea4a5c"/>
<rect x="801" y="476.8" width="1" height="17.7" fill="#ea4a5c"/>
<rect x="808" y="479.2" width="1" height="15.3" fill="#ea4a5c"/>
</g>
<polyline fill="none" stroke="#4cb985" stroke-width="1.2" shape-rendering="crispEdges" points="94.5,502.6 101.5,501.4 108.5,500.1 115.5,498.6 122.5,497.2 129.5,496.3 136.5,495.9 143.5,495.4 150.5,495.4 157.5,495.4 164.5,495.4 171.5,495.9 178.5,497.2 185.5,498.6 192.5,500.5 199.5,501.9 206.5,503.2 213.5,504.5 220.5,506.3 227.5,507.7 234.5,508.6 241.5,509.2 248.5,509.5 255.5,509.5 262.5,509.2 269.5,509.2 276.5,508.3 283.5,507.2 290.5,505.9 297.5,505 304.5,504.5 311.5,504.5 318.5,504.1 325.5,503.2 332.5,502.3 339.5,500.8 346.5,499.5 353.5,498.6 360.5,497.7 367.5,496.8 374.5,495.9 381.5,495 388.5,495 395.5,495 402.5,495 409.5,495.9 416.5,497.2 423.5,498.6 430.5,501.6 437.5,503.2 444.5,506.3 451.5,507.7 458.5,509 465.5,510.5 472.5,511.4 479.5,511.7 486.5,512.8 493.5,514.6 500.5,516.8 507.5,519.9 514.5,523.2 521.5,526.8 528.5,528.6 535.5,531 542.5,532.6 549.5,532.6 556.5,531.4 563.5,529.5 570.5,527.7 577.5,525 584.5,521.9 591.5,519 598.5,516.8 605.5,514.4 612.5,511.9 619.5,509.9 626.5,508.1 633.5,506.5 640.5,505.4 647.5,504.1 654.5,503.2 661.5,502.3 668.5,501.4 675.5,501 682.5,501 689.5,501 696.5,501 703.5,499.2 710.5,497.7 717.5,495.9 724.5,494.1 731.5,492.8 738.5,491.4 745.5,489.9 752.5,489 759.5,488.1 766.5,486.3 773.5,484.5 780.5,482.6 787.5,480.5 794.5,477.7 801.5,475.9 808.5,474.1"/>
<polyline fill="none" stroke="#3287f5" stroke-width="1.2" shape-rendering="crispEdges" points="94.5,497.2 101.5,495.4 108.5,495 115.5,495 122.5,493.5 129.5,492.3 136.5,492.3 143.5,493.7 150.5,494.6 157.5,495 164.5,495.4 171.5,497.2 178.5,500.5 185.5,503.2 192.5,506.3 199.5,507.7 206.5,508.6 213.5,511 220.5,512.8 227.5,514.6 234.5,512.8 241.5,511 248.5,509.5 255.5,509.2 262.5,509.2 269.5,508.3 276.5,505.9 283.5,503.7 290.5,501.4 297.5,502.3 304.5,502.6 311.5,504.1 318.5,503.2 325.5,502.3 332.5,500.5 339.5,498.3 346.5,495 353.5,494.1 360.5,493.5 367.5,492.6 374.5,491.4 381.5,491.4 388.5,494.1 395.5,495.9 402.5,496.5 409.5,498.6 416.5,500.5 423.5,507.7 430.5,510.6 437.5,514.1 444.5,515.4 451.5,515.4 458.5,514.6 465.5,514.6 472.5,513.5 479.5,514.1 486.5,514.6 493.5,522.3 500.5,529.5 507.5,535.9 514.5,537.2 521.5,537.2 528.5,537.2 535.5,537.2 542.5,536.8 549.5,532.3 556.5,526.8 563.5,523.2 570.5,519.5 577.5,514.1 584.5,508.6 591.5,507.4 598.5,507.4 605.5,505.9 612.5,503.7 619.5,501.9 626.5,500.1 633.5,501.4 640.5,500.7 647.5,498.6 654.5,498.1 661.5,497.7 668.5,497.2 675.5,500.1 682.5,500.5 689.5,500.1 696.5,500.1 703.5,494.6 710.5,490.8 717.5,489.2 724.5,488.3 731.5,487.4 738.5,486.3 745.5,484.1 752.5,485.4 759.5,483.7 766.5,481.4 773.5,478.3 780.5,475 787.5,471.9 794.5,470.1 801.5,468.6 808.5,467.2"/>
<g font-family="'Liberation Sans', 'Noto Sans CJK SC', sans-serif" font-size="12">
<text x="92" y="14" fill="#000" textLength="47.3" lengthAdjust="spacingAndGlyphs">欧元美元</text>
<text x="139.5" y="14" fill="#ff7f1a" textLength="58" lengthAdjust="spacingAndGlyphs">【240分】</text>
<text x="229.2" y="14" fill="#000" textLength="126.2" lengthAdjust="spacingAndGlyphs">MA(20,50,100,200,0,0)</text>
<text x="360.9" y="14" fill="#3287f5" textLength="74" lengthAdjust="spacingAndGlyphs">MA20:1.1256</text>
<text x="443.7" y="14" fill="#4cb985" textLength="74" lengthAdjust="spacingAndGlyphs">MA50:1.1210</text>
<text x="526.8" y="14" fill="#38aee6" textLength="81" lengthAdjust="spacingAndGlyphs">MA100:1.1266</text>
<text x="616.7" y="14" fill="#ff8d3c" textLength="80.8" lengthAdjust="spacingAndGlyphs">MA200:1.1274</text>
<text x="706.4" y="14" fill="#ea86e6" textLength="67.6" lengthAdjust="spacingAndGlyphs">MA0:1.1338</text>
<text x="92" y="348" fill="#000" textLength="74.6" lengthAdjust="spacingAndGlyphs">RSI(14,14,14)</text>
<text x="171.6" y="348" fill="#3287f5" textLength="73.2" lengthAdjust="spacingAndGlyphs">RSI1:68.0999</text>
<text x="254" y="348" fill="#4cb985" textLength="73" lengthAdjust="spacingAndGlyphs">RSI2:68.0999</text>
<text x="335" y="348" fill="#38aee6" textLength="73.5" lengthAdjust="spacingAndGlyphs">RSI3:68.0999</text>
<text x="92" y="458.6" fill="#000" textLength="85.6" lengthAdjust="spacingAndGlyphs">MACD(26,12,9)</text>
<text x="183" y="458.6" fill="#3287f5" textLength="64.7" lengthAdjust="spacingAndGlyphs">DIFF:0.0035</text>
<text x="256.6" y="458.6" fill="#4cb985" textLength="63.4" lengthAdjust="spacingAndGlyphs">DEA:0.0025</text>
<text x="330" y="458.6" fill="#38aee6" textLength="76.5" lengthAdjust="spacingAndGlyphs">MACD:0.0020</text>
</g>
<g stroke="#ff8a30" stroke-width="0.9" fill="none"><circle cx="201.7" cy="11.4" r="4.1"/><path d="M197.6 11.4h8.2M201.7 7.3v8.2"/></g>
<rect x="215.5" y="2.5" width="12" height="12" fill="#b9bcc4"/>
<rect x="214.9" y="1.6" width="11.2" height="12" fill="#fff" stroke="#1b1f86" stroke-width="1.1"/>
<polyline points="215.4,8.4 218.2,4.9 221,7.6 222.9,5.6 225.6,5.3" fill="none" stroke="#f0202a" stroke-width="1.1"/>
<polyline points="215.4,11.6 218.4,7.7 221.4,10.3 223.3,8.4 225.6,8.3" fill="none" stroke="#2030e0" stroke-width="1.1"/>
<g stroke="#1f7fd8" fill="none" stroke-width="1.1">
<rect x="857.7" y="1.7" width="12.8" height="12.4"/>
<rect x="873.7" y="1.7" width="12.8" height="12.4"/>
<rect x="889.6" y="1.7" width="12.8" height="12.4"/>
<rect x="905.6" y="1.7" width="12.8" height="12.4"/>
</g>
<g fill="#1f7fd8"><rect x="863.6" y="3.4" width="1.2" height="2.2"/><rect x="863.6" y="10.2" width="1.2" height="2.2"/><rect x="863.4" y="7.2" width="1.6" height="1.6"/><rect x="859.2" y="7.3" width="2.6" height="1.3"/><rect x="866.6" y="7.3" width="2.6" height="1.3"/></g>
<g stroke="#1f7fd8" stroke-width="1" fill="#1f7fd8"><path d="M876.2 12.2V3.6M875.2 4.8l1-1.4 1 1.4M875.4 11.6h9.2M876.6 10.8l-1.4 .8 1.4 .8M883.6 10.8l1.4 .8 -1.4 .8" fill="none"/><path d="M879.5 4.6v5.2" fill="none" stroke-width="1.2"/><path d="M883 4.4v5.6l-2.8-2.8z" stroke="none"/></g>
<g stroke="#1f7fd8" stroke-width="1" fill="#1f7fd8"><path d="M892.2 12.2V3.6M891.2 4.8l1-1.4 1 1.4M891.4 11.6h9.2M892.6 10.8l-1.4 .8 1.4 .8M899.6 10.8l1.4 .8 -1.4 .8" fill="none"/><path d="M895.2 4.4v5.6" fill="none" stroke-width="1.2"/><path d="M896 4.2v6l4.2-3z" stroke="none"/></g>
<g stroke="#1f7fd8" stroke-width="1.1" fill="none"><rect x="908" y="3.4" width="2.6" height="9"/><path d="M910.6 7.9h5" stroke-width="1.6"/><path d="M914.2 5.4l3 2.5 -3 2.5z" fill="#1f7fd8" stroke="none"/></g>
<g><circle cx="29" cy="451.7" r="3.7" fill="#fff" stroke="#000" stroke-width="1"/><circle cx="29" cy="451.7" r="2" fill="#ff0000"/><path d="M29 445.2v1.6M29 456.6v1.6M22.4 451.7h1.8M33.8 451.7h1.8M24.2 446.9l1.3 1.3M32.5 455.2l1.3 1.3M33.8 446.9l-1.3 1.3M25.5 455.2l-1.3 1.3" stroke="#ff0000" stroke-width="1.1" fill="none"/></g>
<g font-family="'Liberation Sans', Arial, sans-serif" font-size="31" transform="scale(0.9,1)"><text x="957.4 981.4 1005.1 1028.4 1048.4" y="549.9" fill="#c9a58f" opacity="0.8">FX678</text><text x="956.6 980.6 1004.3 1027.6 1047.6" y="549.2" fill="#d9e5f6">FX678</text></g>
</svg>
<div class="side">
<div class="t" style="top:0;height:50px;padding-top:7.4px;line-height:13.7px;border-top:none"><span>分</span><span>时</span><span>图</span></div>
<div class="t on" style="top:50px;height:47px;padding-top:6.6px;line-height:13.4px"><span style="font:12px/13.4px 'Liberation Mono',monospace">K</span><span>线</span><span>图</span></div>
<div class="t" style="top:97px;height:53px;padding-top:6.6px;line-height:13.8px"><span>闪</span><span>电</span><span>图</span></div>
<div class="t" style="top:150px;height:63.5px;padding-top:5.8px;line-height:14px"><span>合</span><span>约</span><span>资</span><span>料</span></div>
<div class="box"></div>
</div>
<div class="scroll"></div>
<div class="period"><b>240分</b><i></i></div>
<div class="tabs">
<div class="tab on" style="left:20px;width:39px">指标</div>
<div class="tab cj" style="left:59px;width:41px">模板</div>
<div class="tab vip" style="left:100px;width:58px"><span class="mono">VIP</span>指标</div>
<div class="tab mono" style="left:158px;width:28px">MA</div>
<div class="tab mono" style="left:186px;width:40px">MACD</div>
<div class="tab mono" style="left:226px;width:40px">BIAS</div>
<div class="tab mono" style="left:266px;width:34px">CCI</div>
<div class="tab mono" style="left:300px;width:34px">KDJ</div>
<div class="tab mono" style="left:334px;width:40px">LW&amp;</div>
<div class="tab mono" style="left:374px;width:34px">RSI</div>
<div class="tab mono" style="left:408px;width:28px">CR</div>
<div class="tab mono" style="left:436px;width:35px">PSY</div>
<div class="tab mono" style="left:471px;width:39px">BOLL</div>
<div class="tab mono" style="left:510px;width:34px">VOL</div>
<div class="tab mono" style="left:544px;width:34px">PPS</div>
<div class="tab mono" style="left:578px;width:28px">PP</div>
<div class="tab cj" style="left:606px;width:40px">设置</div>
</div>
<div class="rest"></div>
<div class="botline"></div>
</div>
</body>
</html>
